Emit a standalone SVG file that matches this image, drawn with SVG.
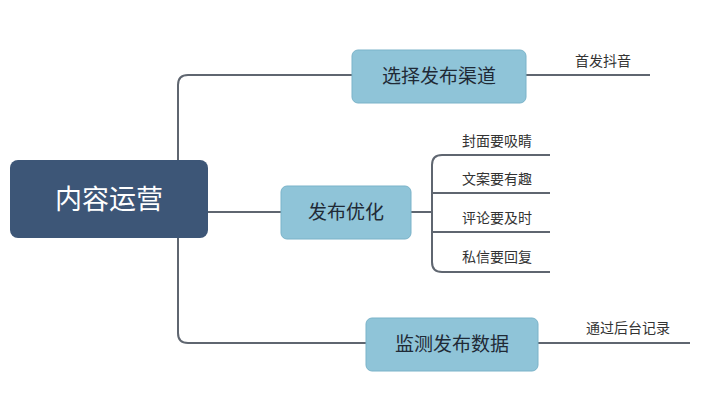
<svg xmlns="http://www.w3.org/2000/svg" width="720" height="405" viewBox="0 0 720 405">
<style>
.c{fill:none;stroke:#5f6670;stroke-width:2}
.b{fill:#8fc4d8;stroke:#7ab3c9;stroke-width:1}
.t{font-family:"Noto Sans CJK SC",sans-serif;fill:#1f2a36}
.l{font-family:"Noto Sans CJK SC",sans-serif;fill:#333;font-size:14px}
</style>
<rect width="720" height="405" fill="#fff"/>
<g id="connectors">
<path class="c" d="M352,75 H188 Q178,75 178,85 V333 Q178,343 188,343 H366"/>
<path class="c" d="M208,212 H281"/>
<path class="c" d="M526,75 H650"/>
<path class="c" d="M411,212 H432"/>
<path class="c" d="M550,155 H442 Q432,155 432,165 V262 Q432,272 442,272 H550"/>
<path class="c" d="M432,193 H550 M432,232 H550"/>
<path class="c" d="M538,343 H690"/>
</g>
<g id="root"><rect x="10" y="160" width="198" height="78" rx="8" fill="#3d5677"/><text x="109" y="209" text-anchor="middle" font-size="27" fill="#fff" font-family="Noto Sans CJK SC,sans-serif">内容运营</text></g>
<g id="n1"><rect class="b" x="352" y="50" width="174" height="53" rx="6"/><text class="t" x="439" y="83" text-anchor="middle" font-size="19">选择发布渠道</text></g>
<g id="n2"><rect class="b" x="281" y="186" width="130" height="53" rx="6"/><text class="t" x="346" y="219" text-anchor="middle" font-size="19">发布优化</text></g>
<g id="n3"><rect class="b" x="366" y="318" width="172" height="53" rx="6"/><text class="t" x="452" y="351" text-anchor="middle" font-size="19">监测发布数据</text></g>
<g id="leaves">
<text class="l" x="575" y="66">首发抖音</text>
<text class="l" x="462" y="146">封面要吸睛</text>
<text class="l" x="462" y="184">文案要有趣</text>
<text class="l" x="462" y="223">评论要及时</text>
<text class="l" x="462" y="262">私信要回复</text>
<text class="l" x="586" y="333">通过后台记录</text>
</g>
</svg>
